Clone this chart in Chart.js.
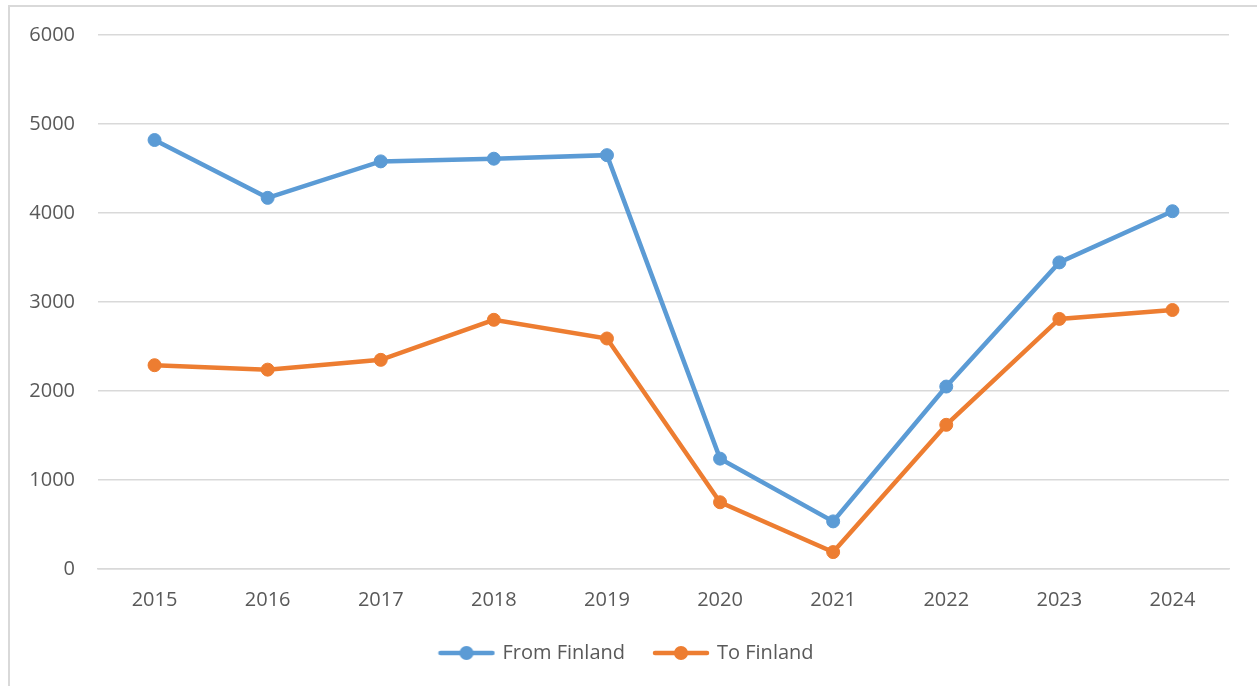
<!DOCTYPE html>
<html>
<head>
<meta charset="utf-8">
<script src="https://cdn.jsdelivr.net/npm/chart.js@4.4.1/dist/chart.umd.min.js"></script>
<style>
  html, body { margin: 0; padding: 0; background: #fff; }
  #frame {
    position: absolute; left: 8px; top: 5px;
    width: 1300px; height: 800px;
    border: 2px solid #d9d9d9;
  }
  #wrap { position: absolute; left: 0; top: 0; width: 1257px; height: 686px; }
</style>
</head>
<body>
<div id="frame"></div>
<div id="wrap"><canvas id="chart"></canvas></div>
<script>
// Data
const years = ['2015', '2016', '2017', '2018', '2019', '2020', '2021', '2022', '2023', '2024'];
const fromFinland = [4820, 4170, 4580, 4610, 4650, 1240, 535, 2050, 3445, 4020];
const toFinland = [2290, 2240, 2350, 2800, 2590, 750, 190, 1620, 2810, 2910];
const yTicks = [0, 1000, 2000, 3000, 4000, 5000, 6000];

const blue = '#5B9BD5';
const orange = '#ED7D31';
const textColor = '#595959';
const gridColor = '#d9d9d9';

// legend icon: line with a dot in the middle
function legendIcon(color) {
  const c = document.createElement('canvas');
  c.width = 58;
  c.height = 18;
  const ctx = c.getContext('2d');
  ctx.strokeStyle = color;
  ctx.lineWidth = 4.5;
  ctx.lineCap = 'round';
  ctx.beginPath();
  ctx.moveTo(3, 9);
  ctx.lineTo(55, 9);
  ctx.stroke();
  ctx.fillStyle = color;
  ctx.beginPath();
  ctx.arc(29, 9, 7, 0, Math.PI * 2);
  ctx.fill();
  return c;
}
const icons = [legendIcon(blue), legendIcon(orange)];

const chart = new Chart(document.getElementById('chart'), {
  type: 'line',
  data: {
    labels: years,
    datasets: [
      {
        label: 'From Finland',
        data: fromFinland,
        borderColor: blue,
        backgroundColor: blue,
        borderWidth: 4.5,
        pointRadius: 6.5,
        pointBorderWidth: 1,
        pointBackgroundColor: blue,
        pointBorderColor: blue
      },
      {
        label: 'To Finland',
        data: toFinland,
        borderColor: orange,
        backgroundColor: orange,
        borderWidth: 4.5,
        pointRadius: 6.5,
        pointBorderWidth: 1,
        pointBackgroundColor: orange,
        pointBorderColor: orange
      }
    ]
  },
  options: {
    responsive: true,
    maintainAspectRatio: false,
    animation: false,
    layout: {
      padding: { top: 35, right: 28, bottom: 13, left: 25 }
    },
    plugins: {
      tooltip: { enabled: false },
      legend: {
        position: 'bottom',
        labels: {
          color: textColor,
          font: { family: 'Open Sans', size: 20 },
          usePointStyle: true,
          pointStyleWidth: 52,
          padding: 30,
          generateLabels: (ch) => ch.data.datasets.map((ds, i) => ({
            text: ds.label,
            pointStyle: icons[i],
            fillStyle: ds.borderColor,
            strokeStyle: ds.borderColor,
            lineWidth: 0,
            fontColor: textColor,
            datasetIndex: i,
            hidden: false
          }))
        }
      }
    },
    scales: {
      x: {
        offset: true,
        grid: { display: false, drawTicks: false },
        border: { display: true, color: gridColor, width: 1.5 },
        ticks: {
          color: textColor,
          font: { family: 'Open Sans', size: 20 },
          padding: 19,
          maxRotation: 0
        },
        afterFit: (scale) => { scale.height = 44; }
      },
      y: {
        min: 0,
        max: 6000,
        grid: { color: gridColor, lineWidth: 1.5, drawTicks: false },
        border: { display: false },
        afterBuildTicks: (scale) => { scale.ticks = yTicks.map(v => ({ value: v })); },
        ticks: {
          color: textColor,
          font: { family: 'Open Sans', size: 20 },
          padding: 23,
          callback: (value) => String(value)
        },
        afterFit: (scale) => { scale.width = 73; }
      }
    }
  }
});
</script>
</body>
</html>
